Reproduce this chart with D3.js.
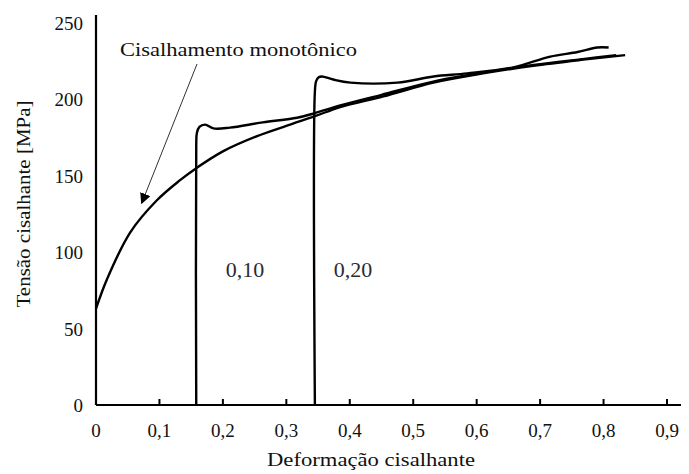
<!DOCTYPE html>
<html>
<head>
<meta charset="utf-8">
<script src="https://cdn.jsdelivr.net/npm/d3@7"></script>
<style>
  body { margin: 0; background: #fff; }
  text { font-family: "Liberation Serif", "Times New Roman", serif; fill: #111; }
</style>
</head>
<body>
<div id="chart"></div>
<script>
// monotonic shear curve
var monoX = [0, 0.017, 0.054, 0.096, 0.132, 0.158, 0.2, 0.254, 0.306, 0.345, 0.385, 0.453, 0.532, 0.61, 0.689, 0.768, 0.834],
    monoY = [63, 82, 113, 134, 147, 155, 166, 176, 183.5, 189, 195, 202, 211, 217, 222, 226, 229];

// reloaded after 0,10 prestrain
var pre1X = [0.158, 0.158, 0.159, 0.163, 0.172, 0.185, 0.211, 0.263, 0.317, 0.345, 0.385, 0.45, 0.53, 0.61, 0.69, 0.77, 0.82],
    pre1Y = [0, 170, 178, 182, 183.5, 181, 181.5, 185, 188, 191, 196, 203, 211.5, 217.5, 222.5, 226.5, 229];

// reloaded after 0,20 prestrain
var pre2X = [0.345, 0.345, 0.347, 0.351, 0.356, 0.374, 0.401, 0.475, 0.532, 0.585, 0.658, 0.716, 0.759, 0.79, 0.808],
    pre2Y = [0, 205, 212, 214.5, 215, 213, 211, 211, 215, 217, 221, 228, 231, 234, 234];

var xTicks = [0, 0.1, 0.2, 0.3, 0.4, 0.5, 0.6, 0.7, 0.8, 0.9],
    yTicks = [0, 50, 100, 150, 200, 250];

var labels = [
  {x: 0.235, y: 84, text: "0,10"},
  {x: 0.405, y: 84, text: "0,20"}
];

var width = 689, height = 474;

var svg = d3.select("#chart").append("svg")
    .attr("width", width)
    .attr("height", height);

var x = d3.scaleLinear().domain([0, 0.9]).range([96, 667]),
    y = d3.scaleLinear().domain([0, 250]).range([405, 23]);

function zip(xs, ys) { return xs.map(function(v, i) { return [v, ys[i]]; }); }

var line = d3.line()
    .x(function(d) { return x(d[0]); })
    .y(function(d) { return y(d[1]); })
    .curve(d3.curveCatmullRom.alpha(0.5));

// axes
svg.append("line")
    .attr("x1", x(0)).attr("x2", 681)
    .attr("y1", y(0)).attr("y2", y(0))
    .attr("stroke", "#000").attr("stroke-width", 2.2);
svg.append("line")
    .attr("x1", x(0)).attr("x2", x(0))
    .attr("y1", y(0)).attr("y2", 15)
    .attr("stroke", "#000").attr("stroke-width", 2.2);

svg.selectAll(".xtick")
    .data(xTicks.slice(1))
    .enter().append("line")
    .attr("x1", function(d) { return x(d); }).attr("x2", function(d) { return x(d); })
    .attr("y1", y(0)).attr("y2", y(0) - 6)
    .attr("stroke", "#000").attr("stroke-width", 2);

svg.selectAll(".xlab")
    .data(xTicks)
    .enter().append("text")
    .attr("x", function(d) { return x(d); })
    .attr("y", 437)
    .attr("text-anchor", "middle")
    .style("font-size", "19px")
    .text(function(d) { return String(d).replace(".", ","); });

svg.selectAll(".ylab")
    .data(yTicks)
    .enter().append("text")
    .attr("x", 83)
    .attr("y", function(d) { return y(d) + 7; })
    .attr("text-anchor", "end")
    .style("font-size", "19px")
    .text(function(d) { return d; });

// titles
svg.append("text")
    .attr("x", 371).attr("y", 466)
    .attr("text-anchor", "middle")
    .attr("textLength", 208).attr("lengthAdjust", "spacingAndGlyphs")
    .style("font-size", "19px")
    .text("Deformação cisalhante");

svg.append("text")
    .attr("transform", "translate(30,204) rotate(-90)")
    .attr("text-anchor", "middle")
    .attr("textLength", 207).attr("lengthAdjust", "spacingAndGlyphs")
    .style("font-size", "18px")
    .text("Tensão cisalhante [MPa]");

// curves
[zip(monoX, monoY), zip(pre1X, pre1Y), zip(pre2X, pre2Y)].forEach(function(pts) {
  svg.append("path")
      .datum(pts)
      .attr("d", line)
      .attr("fill", "none")
      .attr("stroke", "#000")
      .attr("stroke-width", 2.4)
      .attr("stroke-linejoin", "round");
});

svg.selectAll(".lab")
    .data(labels)
    .enter().append("text")
    .attr("x", function(d) { return x(d.x); })
    .attr("y", function(d) { return y(d.y); })
    .attr("text-anchor", "middle")
    .style("font-size", "22px")
    .style("fill", "#2b2b33")
    .text(function(d) { return d.text; });

// annotation with arrow
svg.append("defs").append("marker")
    .attr("id", "arr")
    .attr("viewBox", "0 0 10 10")
    .attr("refX", 9).attr("refY", 5)
    .attr("markerWidth", 11).attr("markerHeight", 11)
    .attr("markerUnits", "userSpaceOnUse")
    .attr("orient", "auto")
  .append("path")
    .attr("d", "M0,0 L10,5 L0,10 z")
    .attr("fill", "#000");

svg.append("line")
    .attr("x1", 197).attr("y1", 64)
    .attr("x2", x(0.072)).attr("y2", y(132))
    .attr("stroke", "#333").attr("stroke-width", 1)
    .attr("marker-end", "url(#arr)");

svg.append("text")
    .attr("x", 120).attr("y", 56)
    .attr("textLength", 237).attr("lengthAdjust", "spacingAndGlyphs")
    .style("font-size", "18px")
    .text("Cisalhamento monotônico");
</script>
</body>
</html>
